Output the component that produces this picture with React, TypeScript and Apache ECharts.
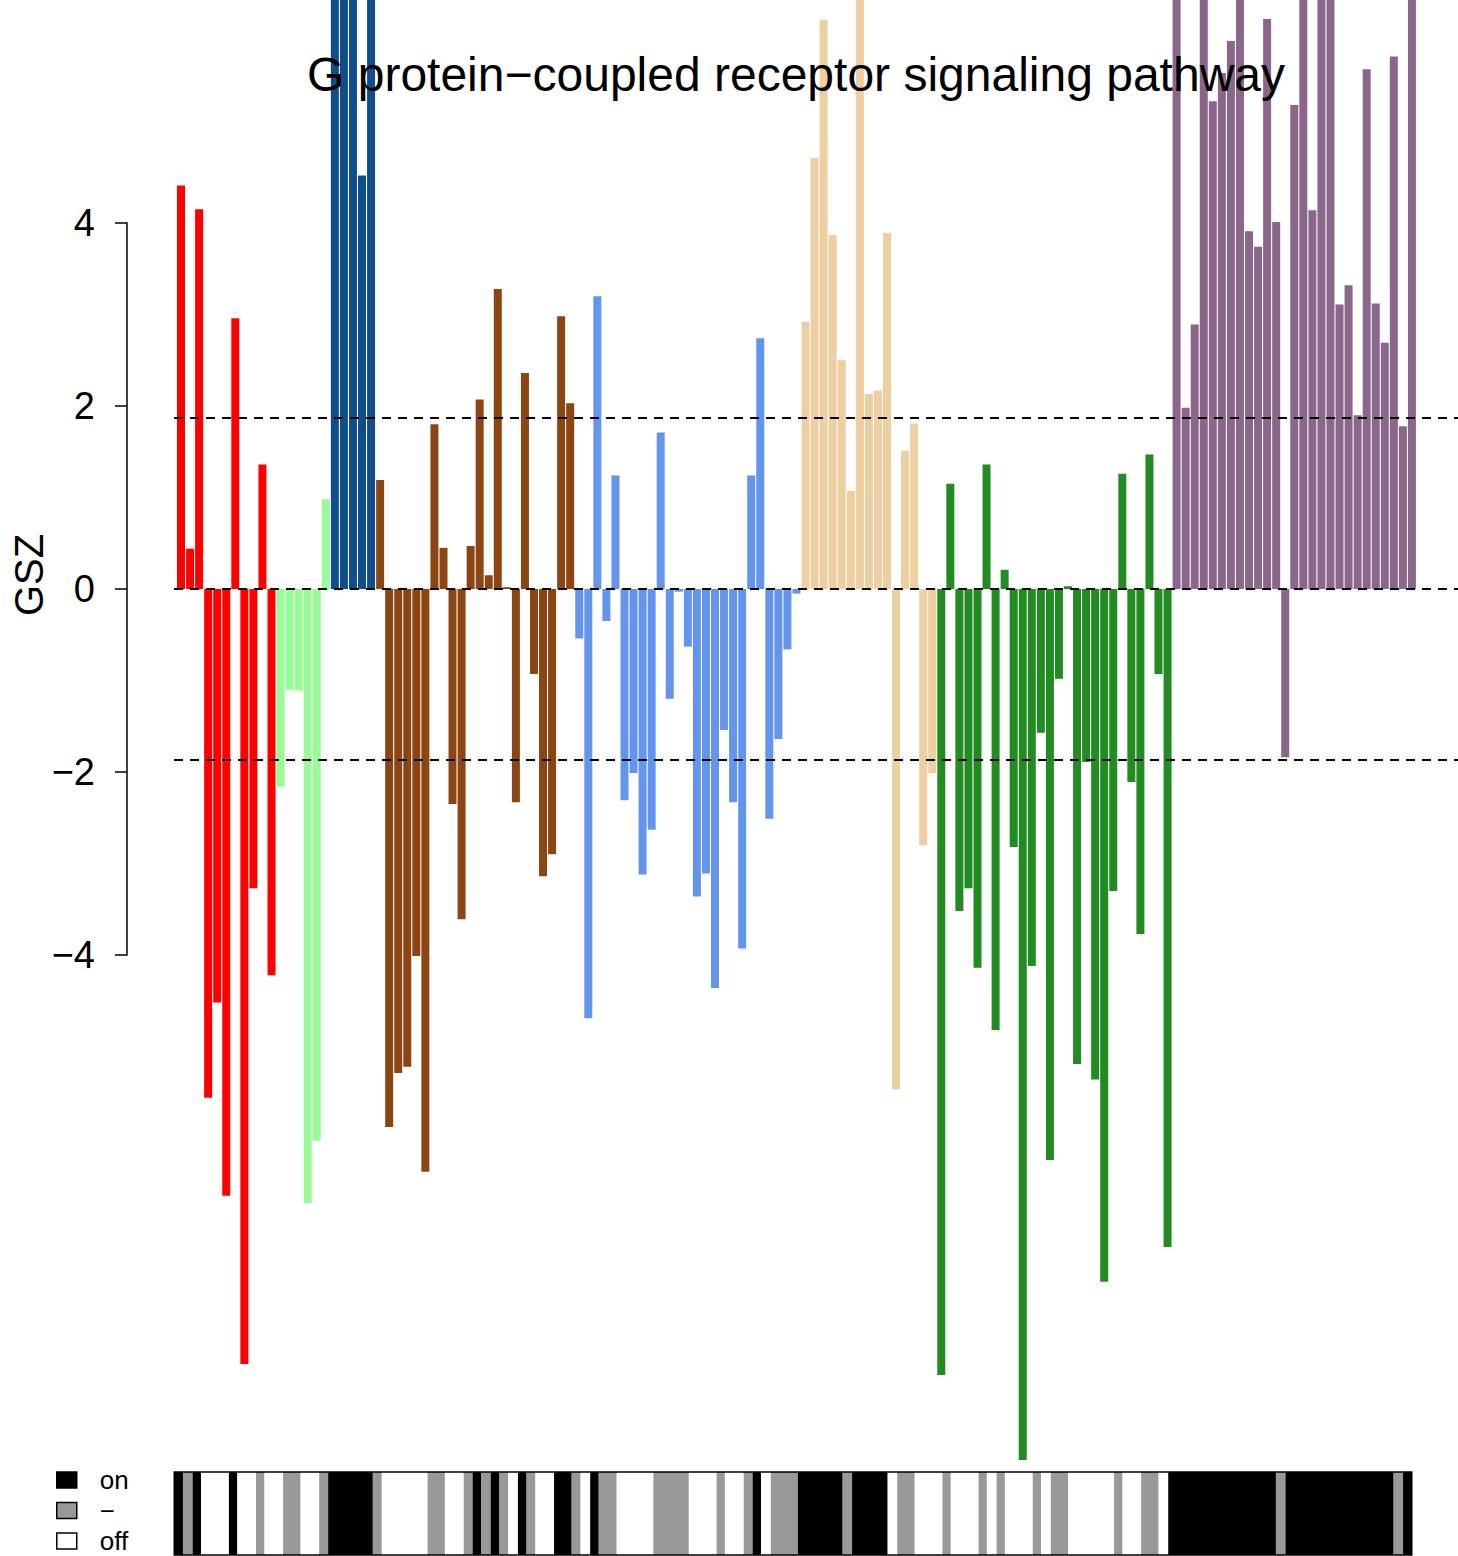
import React, { useEffect, useRef } from "react";
import * as echarts from "echarts";

const TITLE = "G protein\u2212coupled receptor signaling pathway";
const Y_LABEL = "GSZ";
const THRESHOLD = 1.87;

// GSZ values per gene group (left to right)
const redGroup = [4.41, 0.44, 4.15, -5.56, -4.52, -6.63, 2.96, -8.47, -3.27, 1.36, -4.22];
const paleGreenGroup = [-2.16, -1.1, -1.11, -6.71, -6.03, 0.98];
const darkBlueGroup = [7.4, 8.3, 7.9, 4.52, 9.1];
const brownGroup = [1.19, -5.88, -5.29, -5.22, -4.01, -6.37, 1.8, 0.45, -2.35, -3.61, 0.47, 2.07, 0.15, 3.28, 0.02, -2.33, 2.36, -0.93, -3.14, -2.9, 2.98, 2.03];
const blueGroup = [-0.54, -4.69, 3.2, -0.35, 1.24, -2.31, -2.01, -3.12, -2.63, 1.71, -1.2, -0.03, -0.63, -3.36, -3.11, -4.36, -1.54, -2.33, -3.93, 1.24, 2.74, -2.51, -1.64, -0.66, -0.05];
const tanGroup = [2.92, 4.71, 6.22, 3.87, 2.5, 1.07, 6.9, 2.13, 2.17, 3.89, -5.47, 1.51, 1.81, -2.8, -2.01];
const greenGroup = [-8.59, 1.15, -3.52, -3.27, -4.14, 1.36, -4.82, 0.21, -2.82, -9.52, -4.12, -1.57, -6.24, -0.98, 0.03, -5.19, -1.89, -5.36, -7.57, -3.3, 1.26, -2.11, -3.77, 1.47, -0.93, -7.19];
const purpleGroup = [7.8, 1.98, 2.89, 7.1, 5.33, 5.64, 5.99, 8.6, 3.91, 3.74, 6.23, 4.01, -1.84, 5.29, 6.8, 4.14, 7.5, 9.3, 3.11, 3.32, 1.9, 5.68, 3.12, 2.69, 5.82, 1.78, 7.0];

const GROUP_VALUES = [redGroup, paleGreenGroup, darkBlueGroup, brownGroup, blueGroup, tanGroup, greenGroup, purpleGroup];
const GROUP_COLORS = ["#FF0000", "#98FB98", "#104E8B", "#8B4513", "#6495ED", "#EECFA1", "#228B22", "#8B668B"];

const STATUS_NAMES = ["on", "\u2212", "off"];
const STATUS_COLORS = ["#000000", "#999999", "#FFFFFF"];

// layout (pixels)
const W = 1458;
const H = 1556;
const PLOT_LEFT = 174;
const PLOT_RIGHT = 1458;
const FIRST_BAR_CENTER = 181;
const BAR_PITCH = 9.051;
const AXIS_X = 127;
const Y_TOP_TICK_PX = 223;
const Y_BOTTOM_TICK_PX = 955;
const LEGEND_FIRST_CENTER = 1480;
const LEGEND_STEP = 30.5;
const FONT = "'Liberation Sans', Arial, Helvetica, sans-serif";

export default function App() {
  const ref = useRef<HTMLDivElement>(null);

  useEffect(() => {
    if (!ref.current) return;
    const chart = echarts.init(ref.current, undefined, { renderer: "svg" });

    const values: number[] = [];
    const colors: string[] = [];
    GROUP_VALUES.forEach((g, gi) => {
      g.forEach((v) => {
        values.push(v);
        colors.push(GROUP_COLORS[gi]);
      });
    });
    const status = values.map((v) => (v > THRESHOLD ? 0 : v < -THRESHOLD ? 2 : 1));
    const cats = values.map((_, i) => String(i + 1));

    const xMin = 1 + (PLOT_LEFT - FIRST_BAR_CENTER) / BAR_PITCH;
    const xMax = 1 + (PLOT_RIGHT - FIRST_BAR_CENTER) / BAR_PITCH;

    const fmt = (v: number) => (v < 0 ? "\u2212" + Math.abs(v) : String(v));

    const legendItemH = 26;
    const legends = STATUS_NAMES.map((name, k) => ({
      orient: "vertical",
      left: 56,
      top: LEGEND_FIRST_CENTER + k * LEGEND_STEP - legendItemH / 2,
      height: legendItemH + 4,
      padding: 0,
      itemWidth: 20,
      itemHeight: 16,
      icon: "rect",
      selectedMode: false,
      textStyle: {
        fontSize: 26,
        lineHeight: 24,
        color: "#000",
        fontFamily: FONT,
        padding: [0, 0, 0, 18],
      },
      data: [{ name, itemStyle: { borderColor: "#000", borderWidth: 1.5 } }],
    }));

    const stripRender = (color: string) => (params: any, api: any) => {
      const idx = api.value(0);
      const top = api.coord([idx, 1]);
      const size = api.size([1, 1]);
      return {
        type: "rect",
        shape: {
          x: top[0] - size[0] / 2 - 0.4,
          y: top[1],
          width: size[0] + 0.8,
          height: size[1],
        },
        style: { fill: color },
      };
    };

    const option: any = {
      animation: false,
      textStyle: { fontFamily: FONT },
      title: {
        text: TITLE,
        left: 796,
        top: 50,
        textAlign: "center",
        padding: 0,
        textStyle: { fontSize: 48, fontWeight: "normal", color: "#000", fontFamily: FONT },
        z: 10,
      },
      legend: legends,
      grid: [
        {
          left: PLOT_LEFT,
          width: PLOT_RIGHT - PLOT_LEFT,
          top: Y_TOP_TICK_PX,
          height: Y_BOTTOM_TICK_PX - Y_TOP_TICK_PX,
          containLabel: false,
        },
        {
          left: 174.3,
          width: 1237.4,
          top: 1472,
          height: 83,
          show: true,
          backgroundColor: "transparent",
          borderColor: "#000",
          borderWidth: 1.5,
          z: 5,
        },
      ],
      xAxis: [
        { type: "value", gridIndex: 0, min: xMin, max: xMax, show: false },
        { type: "category", gridIndex: 1, data: cats, show: false, boundaryGap: true },
      ],
      yAxis: [
        {
          type: "value",
          gridIndex: 0,
          min: -4,
          max: 4,
          interval: 2,
          position: "left",
          offset: PLOT_LEFT - AXIS_X,
          axisLine: { show: true, onZero: false, lineStyle: { color: "#000", width: 1.5 } },
          axisTick: { show: true, length: 12, inside: false, lineStyle: { color: "#000", width: 1.5 } },
          axisLabel: { margin: 32, fontSize: 38, color: "#000", fontFamily: FONT, formatter: fmt },
          splitLine: { show: false },
        },
        { type: "value", gridIndex: 1, min: 0, max: 1, show: false },
      ],
      graphic: [
        {
          type: "text",
          x: 29,
          y: 575,
          rotation: Math.PI / 2,
          style: {
            text: Y_LABEL,
            fontSize: 40,
            fontFamily: FONT,
            fill: "#000",
            textAlign: "center",
            textVerticalAlign: "middle",
          },
        },
      ],
      series: [
        {
          type: "bar",
          name: "GSZ",
          xAxisIndex: 0,
          yAxisIndex: 0,
          barWidth: 8,
          clip: false,
          data: values.map((v, i) => ({ value: [i + 1, v], itemStyle: { color: colors[i] } })),
          markLine: {
            silent: true,
            symbol: ["none", "none"],
            label: { show: false },
            lineStyle: { type: [9, 7], color: "#000", width: 1.8 },
            data: [{ yAxis: THRESHOLD }, { yAxis: 0 }, { yAxis: -THRESHOLD }],
          },
        },
        ...STATUS_NAMES.map((name, k) => ({
          type: "custom",
          name,
          xAxisIndex: 1,
          yAxisIndex: 1,
          itemStyle: { color: STATUS_COLORS[k] },
          renderItem: stripRender(STATUS_COLORS[k]),
          data: status
            .map((s, i) => (s === k ? [i, 1] : null))
            .filter((d) => d !== null),
        })),
      ],
    };

    chart.setOption(option);
    return () => chart.dispose();
  }, []);

  return (
    <div
      ref={ref}
      style={{ position: "absolute", left: 0, top: 0, width: W, height: H, background: "#fff" }}
    />
  );
}
